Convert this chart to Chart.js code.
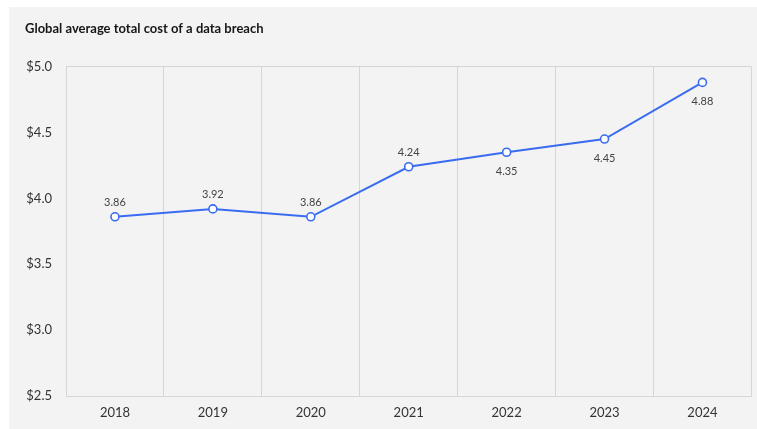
<!DOCTYPE html>
<html>
<head>
<meta charset="utf-8">
<script src="https://cdn.jsdelivr.net/npm/chart.js@4.4.1/dist/chart.umd.min.js"></script>
<style>
    html, body { margin: 0; padding: 0; background: #ffffff; }
    #panel { position: absolute; left: 9px; top: 7px; width: 748px; height: 422px; background: #f3f3f3; }
</style>
</head>
<body>
<div id="panel"><canvas id="graphCanvas" width="748" height="422"></canvas></div>
<script>
const years = ['2018', '2019', '2020', '2021', '2022', '2023', '2024'];
const costValues = [3.86, 3.92, 3.86, 4.24, 4.35, 4.45, 4.88];
// where the value label sits relative to its point
const labelSide = ['above', 'above', 'above', 'above', 'below', 'below', 'below'];
const yMin = 2.5;
const yMax = 5.0;
const yStep = 0.5;

const fontName = 'Lato, "Noto Sans", sans-serif';
const gridColor = '#d6d6d6';

// draws the little numbers next to each point
const valueLabels = {
    id: 'valueLabels',
    afterDatasetsDraw(chart) {
        const ctx = chart.ctx;
        const meta = chart.getDatasetMeta(0);
        ctx.save();
        ctx.font = '11px ' + fontName;
        ctx.fillStyle = '#444444';
        ctx.textAlign = 'center';
        ctx.textBaseline = 'middle';
        meta.data.forEach(function (pt, i) {
            let dy = labelSide[i] === 'above' ? -14 : 19;
            ctx.fillText(costValues[i].toFixed(2), pt.x, pt.y + dy);
        });
        ctx.restore();
    }
};

let graphTarget = document.getElementById('graphCanvas');
let chart = new Chart(graphTarget, {
    type: 'line',
    data: {
        labels: years,
        datasets: [{
            label: 'Global average total cost of a data breach',
            data: costValues,
            borderColor: '#3a6cf0',
            borderWidth: 2,
            backgroundColor: '#ffffff',
            pointBackgroundColor: '#ffffff',
            pointBorderColor: '#3a6cf0',
            pointBorderWidth: 1.6,
            pointRadius: 4,
            tension: 0,
            clip: false
        }]
    },
    options: {
        responsive: false,
        animation: false,
        layout: { padding: { left: 16, right: 5, top: 14, bottom: 0 } },
        plugins: {
            legend: { display: false },
            tooltip: { enabled: false },
            title: {
                display: true,
                text: 'Global average total cost of a data breach',
                align: 'start',
                color: '#161616',
                font: { family: fontName, size: 13, weight: 'bold' },
                padding: { top: 0, bottom: 30 }
            }
        },
        scales: {
            x: {
                offset: true,
                grid: { offset: true, color: gridColor, drawTicks: false },
                border: { color: gridColor },
                ticks: { color: '#333333', font: { family: fontName, size: 13 }, padding: 9 },
                afterFit: function (scale) { scale.height = 33; }
            },
            y: {
                min: yMin,
                max: yMax,
                grid: {
                    drawTicks: false,
                    color: function (c) { return c.tick && c.tick.value === yMax ? gridColor : 'rgba(0,0,0,0)'; }
                },
                border: { color: gridColor },
                ticks: {
                    stepSize: yStep,
                    color: '#333333',
                    font: { family: fontName, size: 13 },
                    padding: 14,
                    callback: function (v) { return '$' + v.toFixed(1); }
                },
                afterFit: function (scale) { scale.width = 41; }
            }
        }
    },
    plugins: [valueLabels]
});
</script>
</body>
</html>
